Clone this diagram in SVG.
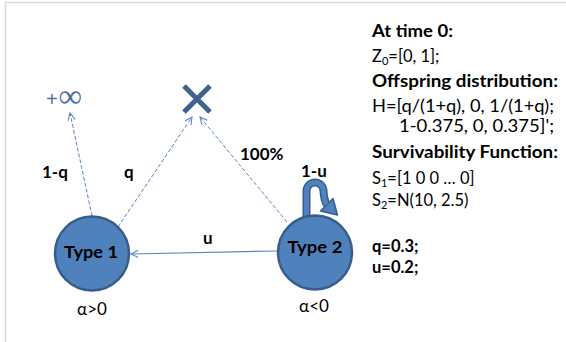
<svg xmlns="http://www.w3.org/2000/svg" width="566" height="342" viewBox="0 0 566 342">
<style>
text{font-family:Lato,"Liberation Sans",sans-serif;fill:#000}
.b{font-weight:bold}
.r{font-size:16.5px}
.lbl{font-weight:bold;font-size:17px}
.node{fill:#4f81bd;stroke:#385d8a;stroke-width:2.5}
.dash{fill:none;stroke:#5b86c0;stroke-width:1;stroke-dasharray:4 2}
.solid{fill:none;stroke:#5b86c0;stroke-width:1.2}
</style>
<defs>
<marker id="v" viewBox="0 0 10 10" refX="9" refY="5" markerWidth="9" markerHeight="9" markerUnits="userSpaceOnUse" orient="auto">
<path d="M1,1 L9,5 L1,9" fill="none" stroke="#5b86c0" stroke-width="1.2"/>
</marker>
</defs>
<rect width="566" height="342" fill="#fff"/>
<path d="M5.5,342 V2.5 H566" fill="none" stroke="#d9d9d9" stroke-width="1.5"/>

<g id="connectors">
<line class="dash" x1="92" y1="216" x2="70" y2="113" marker-end="url(#v)"/>
<line class="dash" x1="118" y1="227" x2="192" y2="117" marker-end="url(#v)"/>
<line class="dash" x1="287" y1="222" x2="200" y2="117" marker-end="url(#v)"/>
<line class="solid" x1="277" y1="251" x2="131" y2="254" marker-end="url(#v)"/>
<path d="M306.5,226 V191 A8.5,8.5 0 0 1 323.5,191 Q324,200 327,205" fill="none" stroke="#385d8a" stroke-width="8"/>
<polygon points="320.5,211 333,198.5 337.5,215" fill="#4f81bd" stroke="#385d8a" stroke-width="1.5" stroke-linejoin="round"/>
<path d="M306.5,226 V191 A8.5,8.5 0 0 1 323.5,191 Q324,200 326.5,204.5" fill="none" stroke="#4f81bd" stroke-width="5"/>
</g>
<g id="edge-labels">
<text class="lbl" x="42" y="178">1-q</text>
<text class="lbl" x="124" y="178">q</text>
<text class="lbl" x="240" y="160">100%</text>
<text class="lbl" x="301" y="177">1-u</text>
<text class="lbl" x="203" y="244">u</text>
</g>

<g id="infinity">
<text x="46" y="106" style="font-family:'Liberation Sans',sans-serif;font-size:20px;fill:#4f6fa0">+</text>
<text x="58.5" y="107" style="font-family:'Liberation Serif',serif;font-size:33px;fill:#4f6fa0">∞</text>
</g>
<g id="death">
<path d="M184,86 L210,112 M210,86 L184,112" stroke="#3d6190" stroke-width="5" fill="none"/>
</g>

<g id="type1">
<circle class="node" cx="92" cy="253.5" r="37"/>
<text class="b" x="91" y="258" font-size="17" text-anchor="middle" textLength="54" lengthAdjust="spacingAndGlyphs">Type 1</text>
<text x="92" y="315" font-size="17" text-anchor="middle">α&gt;0</text>
</g>
<g id="type2">
<circle class="node" cx="315" cy="252.5" r="37"/>
<text class="b" x="315" y="253" font-size="17" text-anchor="middle" textLength="55" lengthAdjust="spacingAndGlyphs">Type 2</text>
<text x="314" y="312" font-size="17" text-anchor="middle">α&lt;0</text>
</g>

<g id="info">
<text class="b r" x="372" y="37" textLength="81" lengthAdjust="spacingAndGlyphs">At time 0:</text>
<text class="r" x="372" y="62">Z<tspan font-size="11" dy="3">0</tspan><tspan dy="-3">=[0, 1];</tspan></text>
<text class="b r" x="372" y="87" textLength="186" lengthAdjust="spacingAndGlyphs">Offspring distribution:</text>
<text class="r" x="372" y="112" textLength="182" lengthAdjust="spacingAndGlyphs">H=[q/(1+q), 0, 1/(1+q);</text>
<text class="r" x="399" y="132" textLength="155" lengthAdjust="spacingAndGlyphs">1-0.375, 0, 0.375]';</text>
<text class="b r" x="372" y="158" textLength="186" lengthAdjust="spacingAndGlyphs">Survivability Function:</text>
<text class="r" x="372" y="184">S<tspan font-size="11" dy="3">1</tspan><tspan dy="-3">=[1 0 0 … 0]</tspan></text>
<text class="r" x="372" y="206">S<tspan font-size="11" dy="3">2</tspan><tspan dy="-3">=N(10, 2.5)</tspan></text>
<text class="b r" x="372" y="252">q=0.3;</text>
<text class="b r" x="372" y="273">u=0.2;</text>
</g>
</svg>
